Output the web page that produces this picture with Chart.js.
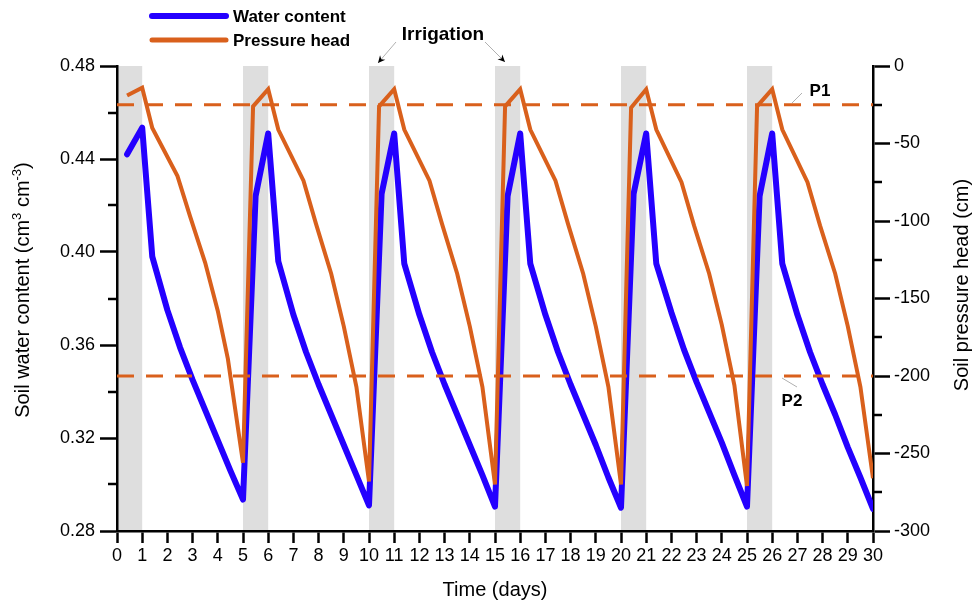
<!DOCTYPE html>
<html>
<head>
<meta charset="utf-8">
<script src="https://cdn.jsdelivr.net/npm/chart.js@4.4.0/dist/chart.umd.min.js"></script>
<style>
  html, body { margin: 0; padding: 0; background: #fff; }
  #wrap { width: 973px; height: 605px; position: relative; }
</style>
</head>
<body>
<div id="wrap"><canvas id="soilChart"></canvas></div>
<script>
// Water content series (days, cm3 cm-3)
const waterDays = [
  0.4, 1, 1.4, 2, 2.5, 3, 3.5, 4, 4.5, 5,
  5.5, 6, 6.4, 7, 7.5, 8, 8.5, 9, 9.5, 10,
  10.5, 11, 11.4, 12, 12.5, 13, 13.5, 14, 14.5, 15,
  15.5, 16, 16.4, 17, 17.5, 18, 18.5, 19, 19.5, 20,
  20.5, 21, 21.4, 22, 22.5, 23, 23.5, 24, 24.5, 25,
  25.5, 26, 26.4, 27, 27.5, 28, 28.5, 29, 29.5, 30
];
const waterContent = [
  0.442, 0.4535, 0.398, 0.375, 0.359, 0.345, 0.332, 0.319, 0.306, 0.2935,
  0.424, 0.451, 0.396, 0.373, 0.357, 0.343, 0.330, 0.317, 0.304, 0.291,
  0.425, 0.451, 0.395, 0.373, 0.357, 0.343, 0.330, 0.317, 0.304, 0.2905,
  0.424, 0.451, 0.395, 0.373, 0.357, 0.343, 0.330, 0.317, 0.303, 0.290,
  0.425, 0.451, 0.395, 0.374, 0.358, 0.344, 0.331, 0.318, 0.304, 0.2905,
  0.424, 0.451, 0.395, 0.373, 0.357, 0.343, 0.330, 0.316, 0.303, 0.2895
];

// Pressure head series (days, cm)
const pressureDays = [
  0.4, 1, 1.4, 2.4, 2.9, 3.5, 4, 4.4, 5,
  5.4, 6, 6.4, 7.4, 7.9, 8.5, 9, 9.5, 10,
  10.4, 11, 11.4, 12.4, 12.9, 13.5, 14, 14.5, 15,
  15.4, 16, 16.4, 17.4, 17.9, 18.5, 19, 19.5, 20,
  20.4, 21, 21.4, 22.4, 22.9, 23.5, 24, 24.5, 25,
  25.4, 26, 26.4, 27.4, 27.9, 28.5, 29, 29.5, 30
];
const pressureHead = [
  -19, -14, -40, -71, -97, -127, -158, -189, -256,
  -26, -15, -41, -74, -102, -134, -168, -207, -268,
  -26, -15, -41, -74, -102, -134, -168, -207, -270,
  -26, -15, -41, -74, -102, -134, -168, -207, -270,
  -27, -15, -41, -75, -103, -134, -167, -206, -271,
  -26, -15, -41, -75, -103, -134, -168, -207, -266
];

// Irrigation periods and thresholds
const irrigationStart = [0, 5, 10, 15, 20, 25];
const irrigationEnd = [1, 6, 11, 16, 21, 26];
const thresholdP1 = -25;
const thresholdP2 = -200;
const timeRange = [0, 30];

const blue = '#2400ff';
const orange = '#d9601c';
const fontFamily = '"Liberation Sans", Arial, sans-serif';

function toPoints(xs, ys) {
  return xs.map((x, i) => ({ x: x, y: ys[i] }));
}

// grey bands behind everything
const bandsPlugin = {
  id: 'bands',
  beforeDraw(chart) {
    const { ctx, chartArea, scales } = chart;
    ctx.save();
    ctx.fillStyle = '#dedede';
    irrigationStart.forEach((s, i) => {
      const x0 = scales.x.getPixelForValue(s);
      const x1 = scales.x.getPixelForValue(irrigationEnd[i]);
      ctx.fillRect(x0, chartArea.top, x1 - x0, chartArea.bottom - chartArea.top);
    });
    ctx.restore();
  }
};

function drawArrow(ctx, x0, y0, x1, y1) {
  ctx.strokeStyle = '#b0b0b0';
  ctx.lineWidth = 1;
  ctx.beginPath();
  ctx.moveTo(x0, y0);
  ctx.lineTo(x1, y1);
  ctx.stroke();
  const a = Math.atan2(y1 - y0, x1 - x0);
  ctx.fillStyle = '#000';
  ctx.beginPath();
  ctx.moveTo(x1, y1);
  ctx.lineTo(x1 - 8 * Math.cos(a - 0.45), y1 - 8 * Math.sin(a - 0.45));
  ctx.lineTo(x1 - 5 * Math.cos(a), y1 - 5 * Math.sin(a));
  ctx.lineTo(x1 - 8 * Math.cos(a + 0.45), y1 - 8 * Math.sin(a + 0.45));
  ctx.closePath();
  ctx.fill();
}

// minor ticks, titles, legend and labels
const decorPlugin = {
  id: 'decor',
  afterDraw(chart) {
    const { ctx, scales } = chart;
    ctx.save();

    // minor ticks
    ctx.strokeStyle = '#000';
    ctx.lineWidth = 2.5;
    scales.y.ticks.forEach((t, i) => {
      if (i % 2 === 1) {
        const y = Math.round(scales.y.getPixelForValue(t.value));
        ctx.beginPath();
        ctx.moveTo(scales.y.right, y);
        ctx.lineTo(scales.y.right - 9, y);
        ctx.stroke();
      }
    });
    scales.y1.ticks.forEach((t, i) => {
      if (i % 2 === 1) {
        const y = Math.round(scales.y1.getPixelForValue(t.value));
        ctx.beginPath();
        ctx.moveTo(scales.y1.left, y);
        ctx.lineTo(scales.y1.left + 9, y);
        ctx.stroke();
      }
    });

    ctx.fillStyle = '#000';
    ctx.textBaseline = 'middle';

    // left title with superscripts
    const parts = [['Soil water content (cm', false], ['3', true], [' cm', false], ['-3', true], [')', false]];
    const mainFont = '20px ' + fontFamily;
    const supFont = '13px ' + fontFamily;
    let total = 0;
    parts.forEach(p => { ctx.font = p[1] ? supFont : mainFont; total += ctx.measureText(p[0]).width; });
    ctx.save();
    ctx.translate(23, 290);
    ctx.rotate(-Math.PI / 2);
    ctx.textAlign = 'left';
    let x = -total / 2;
    parts.forEach(p => {
      ctx.font = p[1] ? supFont : mainFont;
      ctx.fillText(p[0], x, p[1] ? -6 : 0);
      x += ctx.measureText(p[0]).width;
    });
    ctx.restore();

    // right title
    ctx.save();
    ctx.translate(962, 285);
    ctx.rotate(-Math.PI / 2);
    ctx.textAlign = 'center';
    ctx.font = mainFont;
    ctx.fillText('Soil pressure head (cm)', 0, 0);
    ctx.restore();

    // x title
    ctx.textAlign = 'center';
    ctx.font = mainFont;
    ctx.fillText('Time (days)', 495, 590);

    // legend
    ctx.lineCap = 'round';
    ctx.strokeStyle = blue;
    ctx.lineWidth = 6;
    ctx.beginPath(); ctx.moveTo(152, 16); ctx.lineTo(226, 16); ctx.stroke();
    ctx.strokeStyle = orange;
    ctx.lineWidth = 5;
    ctx.beginPath(); ctx.moveTo(152, 40); ctx.lineTo(226, 40); ctx.stroke();
    ctx.lineCap = 'butt';
    ctx.textAlign = 'left';
    ctx.font = 'bold 17px ' + fontFamily;
    ctx.fillText('Water content', 233, 17);
    ctx.fillText('Pressure head', 233, 41);

    // irrigation label
    ctx.textAlign = 'center';
    ctx.font = 'bold 19px ' + fontFamily;
    ctx.fillText('Irrigation', 443, 35);
    drawArrow(ctx, 396, 42, 378, 63);
    drawArrow(ctx, 485, 42, 505, 62);

    // P1 / P2
    ctx.font = 'bold 17px ' + fontFamily;
    ctx.fillText('P1', 820, 91);
    ctx.fillText('P2', 792, 401);
    ctx.strokeStyle = '#b0b0b0';
    ctx.lineWidth = 1;
    ctx.beginPath(); ctx.moveTo(792, 103); ctx.lineTo(802, 93); ctx.stroke();
    ctx.beginPath(); ctx.moveTo(782, 378); ctx.lineTo(797, 387); ctx.stroke();

    ctx.restore();
  }
};

const tickColor = ctx => (ctx.index % 2 === 0 ? '#000' : 'rgba(0,0,0,0)');

const ctx = document.getElementById('soilChart').getContext('2d');
const chart = new Chart(ctx, {
  type: 'line',
  data: {
    datasets: [
      {
        label: 'P1',
        data: toPoints(timeRange, [thresholdP1, thresholdP1]),
        yAxisID: 'y1',
        borderColor: orange,
        borderWidth: 3,
        borderDash: [17, 12],
        pointRadius: 0,
        order: 0
      },
      {
        label: 'P2',
        data: toPoints(timeRange, [thresholdP2, thresholdP2]),
        yAxisID: 'y1',
        borderColor: orange,
        borderWidth: 3,
        borderDash: [17, 12],
        pointRadius: 0,
        order: 0
      },
      {
        label: 'Pressure head',
        data: toPoints(pressureDays, pressureHead),
        yAxisID: 'y1',
        borderColor: orange,
        borderWidth: 4,
        pointRadius: 0,
        tension: 0,
        order: 1
      },
      {
        label: 'Water content',
        data: toPoints(waterDays, waterContent),
        yAxisID: 'y',
        borderColor: blue,
        borderWidth: 6,
        borderCapStyle: 'round',
        borderJoinStyle: 'round',
        pointRadius: 0,
        tension: 0,
        order: 2
      }
    ]
  },
  options: {
    responsive: true,
    maintainAspectRatio: false,
    animation: false,
    layout: { padding: { top: 66, left: 0, right: 0, bottom: 0 } },
    plugins: {
      legend: { display: false },
      tooltip: { enabled: false }
    },
    scales: {
      x: {
        type: 'linear',
        min: 0,
        max: 30,
        afterFit: s => { s.height = 74; },
        ticks: {
          stepSize: 1,
          autoSkip: false,
          maxRotation: 0,
          padding: 2,
          color: '#000',
          font: { size: 18, family: fontFamily }
        },
        grid: { drawOnChartArea: false, tickLength: 12, tickWidth: 2.5, tickColor: '#000' },
        border: { display: true, color: '#000', width: 2.5 }
      },
      y: {
        type: 'linear',
        position: 'left',
        min: 0.28,
        max: 0.48,
        afterFit: s => { s.width = 117; },
        ticks: {
          stepSize: 0.02,
          autoSkip: false,
          padding: 5,
          color: '#000',
          font: { size: 18, family: fontFamily },
          callback: (v, i) => (i % 2 === 0 ? Number(v).toFixed(2) : '')
        },
        grid: { drawOnChartArea: false, tickLength: 17, tickWidth: 2.5, tickColor: tickColor },
        border: { display: true, color: '#000', width: 2.5 }
      },
      y1: {
        type: 'linear',
        position: 'right',
        min: -300,
        max: 0,
        afterFit: s => { s.width = 100; },
        ticks: {
          stepSize: 25,
          autoSkip: false,
          padding: 4,
          color: '#000',
          font: { size: 18, family: fontFamily },
          callback: (v, i) => (i % 2 === 0 ? String(v) : '')
        },
        grid: { drawOnChartArea: false, tickLength: 17, tickWidth: 2.5, tickColor: tickColor },
        border: { display: true, color: '#000', width: 2.5 }
      }
    }
  },
  plugins: [bandsPlugin, decorPlugin]
});
</script>
</body>
</html>
